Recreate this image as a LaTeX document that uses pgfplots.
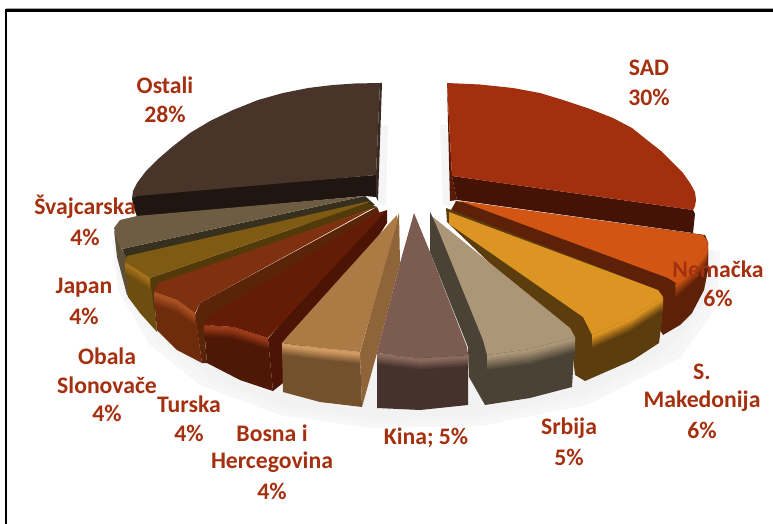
\documentclass[border=0pt]{standalone}
\usepackage{fontspec}
\setmainfont{Carlito}
\usepackage{pgfplots}
\pgfplotsset{compat=1.18}
\definecolor{lbl}{HTML}{A5300F}
\newcommand\C[1]{\definecolor{#1}{HTML}{#1}}
\C{1F1612}\C{3A2A22}\C{483429}\C{5A1A08}\C{451206}\C{A22F0D}\C{5C2108}\C{D25513}\C{5E5038}\C{38301F}\C{6E5D43}
\C{533A0A}\C{6E4E10}\C{A6711A}\C{7F5A12}\C{5A2409}\C{6E2C0D}\C{A85020}\C{7F300F}\C{4C1404}\C{4E1806}\C{9A3A18}\C{641C07}
\C{8F6438}\C{74512D}\C{D19A63}\C{AB7A45}\C{5C3D0E}\C{DC9423}\C{4A4235}\C{AC9678}\C{46322C}\C{7C5C50}\C{8A6A5E}
\newcommand\Poly[2]{\addplot[fill=#1,draw=none] coordinates {#2} -- cycle;}
% rim: a thin crescent repeated downward, from the side colour to the top colour
\newcommand\Rim[4]{%
 \addplot[fill=#2,draw=none,yshift=-#3*1.00pt] coordinates {#4} -- cycle;
 \addplot[fill=#1!15!#2,draw=none,yshift=-#3*0.83pt] coordinates {#4} -- cycle;
 \addplot[fill=#1!32!#2,draw=none,yshift=-#3*0.67pt] coordinates {#4} -- cycle;
 \addplot[fill=#1!50!#2,draw=none,yshift=-#3*0.50pt] coordinates {#4} -- cycle;
 \addplot[fill=#1!68!#2,draw=none,yshift=-#3*0.33pt] coordinates {#4} -- cycle;
 \addplot[fill=#1!85!#2,draw=none,yshift=-#3*0.17pt] coordinates {#4} -- cycle;
 \addplot[fill=#1,draw=none] coordinates {#4} -- cycle;}
\newcommand\Lab[3]{\node[text=lbl,font=\fontsize{23.7}{23.7}\selectfont\bfseries,anchor=center,inner sep=0pt] at (axis cs:#1,#2) {#3};}
\begin{document}
\begin{tikzpicture}
\begin{axis}[width=773pt,height=524pt,scale only axis,xmin=0,xmax=773,ymin=0,ymax=524,y dir=reverse,
  axis line style={draw=none},ticks=none,clip=true]
% soft shadow
\Poly{black!3}{(112,240)(118,290)(150,345)(200,385)(280,415)(370,428)(480,426)(590,404)(680,358)(718,305)(720,250)(400,300)}
\Poly{black!4}{(115,250)(122,290)(155,340)(205,381)(283,411)(375,424)(480,421)(587,399)(676,353)(714,300)(714,250)(400,300)}
\Poly{black!5}{(118,260)(126,290)(160,335)(210,377)(285,407)(375,419)(480,416)(585,394)(670,348)(710,295)(710,250)(400,300)}
\Poly{black!4}{(440,125)(447,125)(452,205)(443,205)}
\Poly{black!4}{(381,125)(388,125)(386,205)(378,205)}
% Ostali
\Poly{1F1612}{(132,198)(140,194)(376,175)(376,197)(365,196)(137,217)(133,205)}
\Poly{3A2A22}{(380,83)(382,83)(378,201)(376,197)(376,175)}
\Poly{483429}{(380,83)(355,83.5)(333,85)(308,88)(283,93)(258,100)(233,110)(210,121)(190,133)(172,147)(157,160)(146,171)(137,183)(133,191)(132,198)(137,196)(376,175)}
% SAD
\Poly{5A1A08}{(447,83)(452,176)(457,200)(450,201)}
\Poly{451206}{(452,176)(693,210)(695,214)(693,233)(457,200)}
\Poly{A22F0D}{(447,83)(480,84.5)(513,88)(540,93)(563,100)(590,109)(613,118)(632,128)(647,140)(661,151)(673,163)(683,173)(690,183)(695,192)(696,200)(695,206)(693,210)(452,176)}
% Nemacka
\Poly{5C2108}{(456,201)(705,235)(708,242)(708,270)(704,290)(692,313)(680,325)(663,335)(660,330)(655,290)(450,212)}
\Rim{D25513}{5C2108}{14}{(708,243)(703,252)(691,268)(676,283)(675,286)(694,270)(706,254)(708,246)}
\Poly{D25513}{(460,201)(703,235)(708,242)(703,252)(691,268)(676,283)(668,278)}
% Svajcarska
\Poly{5E5038}{(114,230)(117,257)(127,295)(135,300)(150,280)(122,250)}
\Poly{38301F}{(365,196)(375,205)(135,272)(122,249)}
\Poly{6E5D43}{(365,196)(137,216)(120,220)(114,228)(117,240)(122,249)}
% Japan
\Poly{533A0A}{(367,203)(377,207)(158,284)(154,295)(157,332)(150,287)(150,278)}
\Poly{6E4E10}{(126,263)(128,297)(140,313)(157,332)(150,280)}
\Rim{A6711A}{6E4E10}{10}{(125,262)(137,269)(150,278)(150,281)(137,272)(125,265)}
\Poly{7F5A12}{(370,201)(127,256)(125,262)(137,269)(150,278)(367,203)}
% Obala
\Poly{5A2409}{(377,207)(381,216)(214,322)(204,330)(207,363)(202,363)(195,315)(200,303)}
\Poly{6E2C0D}{(154,297)(157,330)(177,350)(202,363)(195,313)}
\Rim{A85020}{6E2C0D}{11}{(154,292)(177,300)(195,313)(195,316)(177,303)(154,295)}
\Poly{7F300F}{(377,207)(158,283)(154,292)(177,300)(195,313)(200,303)(373,208)}
% Turska
\Poly{4C1404}{(387,210)(387,223)(283,383)(273,391)(268,339)(277,328)(378,213)}
\Poly{4E1806}{(204,327)(207,363)(240,380)(273,391)(268,339)}
\Rim{9A3A18}{4E1806}{10}{(204,325)(233,327)(268,338)(268,341)(233,330)(204,328)}
\Poly{641C07}{(385,212)(378,213)(207,318)(204,325)(233,327)(268,338)(277,328)}
% Bosna
\Poly{8F6438}{(399,213)(400,263)(377,353)(362,407)(360,353)}
\Poly{74512D}{(282,347)(283,392)(320,402)(362,407)(360,355)}
\Rim{D19A63}{74512D}{10}{(282,343)(320,348)(360,352)(360,355)(320,351)(282,346)}
\Poly{AB7A45}{(397,215)(287,337)(282,343)(320,348)(360,352)(397,223)}
% S. Makedonija
\Poly{5C3D0E}{(446,208)(658,290)(663,297)(662,320)(659,343)(633,360)(585,381)(575,375)(570,330)(500,273)(447,222)}
\Rim{DC9423}{5C3D0E}{12}{(663,297)(630,318)(592,335)(592,338)(630,321)(663,300)}
\Poly{DC9423}{(449,212)(658,290)(663,297)(630,318)(592,335)(583,317)(449,224)}
% Srbija
\Poly{4A4235}{(430,212)(435,222)(575,337)(572,387)(530,398)(485,405)(469,377)(468,347)(430,252)}
\Rim{AC9678}{4A4235}{14}{(575,337)(530,349)(487,355)(487,358)(530,352)(575,340)}
\Poly{AC9678}{(433,217)(570,328)(575,337)(530,349)(487,355)(483,340)(435,222)}
% Kina
\Poly{46322C}{(377,355)(377,408)(420,410)(468,405)(468,352)}
\Rim{8A6A5E}{46322C}{10}{(377,353)(420,358)(468,355)(468,358)(420,361)(377,356)}
\Poly{7C5C50}{(414,213)(430,252)(467,347)(468,355)(420,358)(377,353)(400,263)}
% frame
\addplot[black!35,line width=1pt] coordinates {(6,8.5)(773,8.5)};
\addplot[black,line width=2.2pt] coordinates {(6,524)(6,10.5)(773,10.5)};
% labels
\Lab{649}{68}{SAD}\Lab{649}{97}{30\%}
\Lab{165}{85}{Ostali}\Lab{165}{114}{28\%}
\Lab{718}{269}{Nemačka}\Lab{718}{298}{6\%}
\Lab{702}{372}{S.}\Lab{702}{401}{Makedonija}\Lab{702}{430}{6\%}
\Lab{569}{428}{Srbija}\Lab{569}{457}{5\%}
\Lab{426}{438}{Kina; 5\%}
\Lab{272}{433}{Bosna i}\Lab{272}{462}{Hercegovina}\Lab{272}{491}{4\%}
\Lab{189}{404}{Turska}\Lab{189}{433}{4\%}
\Lab{107}{356}{Obala}\Lab{107}{385}{Slonovače}\Lab{107}{413}{4\%}
\Lab{84}{288}{Japan}\Lab{84}{316}{4\%}
\Lab{85}{207}{Švajcarska}\Lab{85}{237}{4\%}
\end{axis}
\end{tikzpicture}
\end{document}
